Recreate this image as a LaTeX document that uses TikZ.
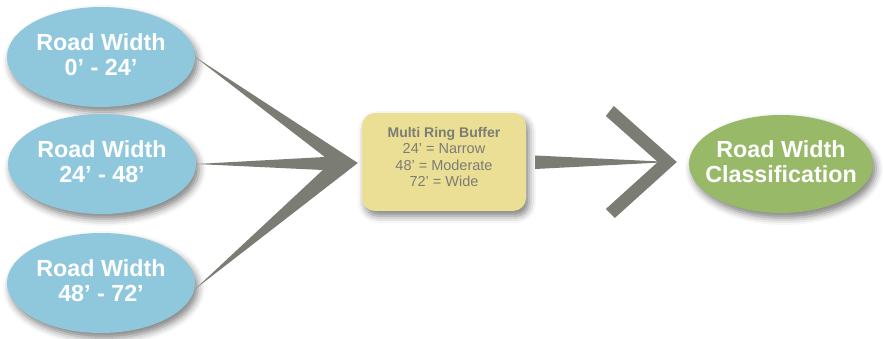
\documentclass[tikz,border=0pt]{standalone}
\usepackage{fontspec}
\setmainfont{Liberation Sans}
\usetikzlibrary{shapes.geometric,shadows.blur,calc}
\definecolor{blueE}{HTML}{8FC8DC}
\definecolor{greenE}{HTML}{98B968}
\definecolor{yellowB}{HTML}{EADF95}
\definecolor{arrowG}{HTML}{7B7C73}
\definecolor{textG}{HTML}{7D7D75}
\tikzset{
  softshadow/.style={blur shadow={shadow xshift=3pt, shadow yshift=-5pt, shadow blur radius=7pt, shadow opacity=50}},
  rw/.style={ellipse, minimum width=188pt, minimum height=100pt, inner sep=0pt,
    fill=blueE, softshadow},
  cls/.style={ellipse, minimum width=184pt, minimum height=98pt, inner sep=0pt,
    fill=greenE, softshadow},
  bigtext/.style={text=white, font=\fontsize{23.3}{25}\selectfont\bfseries, align=center, inner sep=0pt},
  bufbox/.style={rectangle, rounded corners=13pt, minimum width=164pt, minimum height=98pt,
    inner sep=0pt, fill=yellowB, softshadow},
  buftext/.style={text=textG, font=\fontsize{14.5}{16.3}\selectfont, align=center, inner sep=0pt},
  conn/.style={fill=arrowG}
}
\begin{document}
\begin{tikzpicture}[x=1pt,y=-1pt]
\useasboundingbox (0,0) rectangle (883,339);
% nodes
\node[rw] (r1) at (101,57) {};
\node[rw] (r2) at (102,164) {};
\node[rw] (r3) at (101,283) {};
\node[bigtext] (t1) at ($(r1.center)+(0,-2)$) {Road Width\\0’ - 24’};
\node[bigtext] (t2) at ($(r2.center)+(0,-2)$) {Road Width\\24’ - 48’};
\node[bigtext] (t3) at ($(r3.center)+(0,-2)$) {Road Width\\48’ - 72’};
\node[bufbox] (mb) at (444,162) {};
\node[buftext] (mbt) at ($(mb.center)+(0,-5)$) {{\fontsize{14}{16.3}\selectfont\bfseries Multi Ring Buffer}\\24’ = Narrow\\48’ = Moderate\\72’ = Wide};
\node[cls] (gc) at (781,164) {};
\node[bigtext] (gt) at ($(gc.center)+(0,-2)$) {Road Width\\Classification};
% left converging arrow
\coordinate (tipL) at ($(mb.west)+(-4,1)$);
\coordinate (nt) at ($(tipL)+(-33,-6)$);
\coordinate (nb) at ($(tipL)+(-35,7)$);
\coordinate (r3s) at ($(r3.east)+(0,6)$);
\fill[conn] (r1.east) -- (tipL) -- (r3s) -- (nb) -- (r2.east) -- (nt) -- cycle;
% right arrow
\coordinate (tipR) at ($(gc.west)+(-12,-2)$);
\coordinate (s1) at ($(mb.east)+(9,-6.5)$);
\coordinate (s2) at ($(mb.east)+(9,7)$);
\fill[conn] (s1) -- ($(tipR)+(-6,0)$) -- (s2) -- cycle;
\fill[conn] ($(tipR)+(-63,-56)$) -- (tipR) -- ($(tipR)+(-62,56)$) -- ($(tipR)+(-71,47)$)
  -- ($(tipR)+(-19,0)$) -- ($(tipR)+(-71,-46)$) -- cycle;
\end{tikzpicture}
\end{document}
